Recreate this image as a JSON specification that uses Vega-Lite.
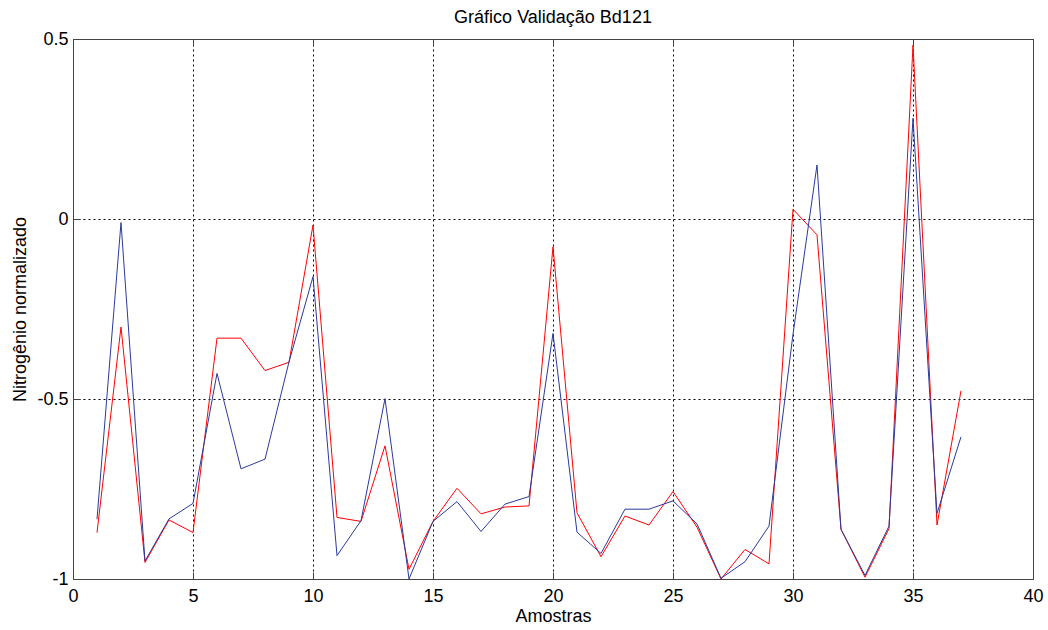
{
  "$schema": "https://vega.github.io/schema/vega-lite/v6.json",
  "width": 960,
  "height": 540,
  "autosize": {"type": "none"},
  "padding": {"left": 73, "top": 39, "right": 15, "bottom": 51},
  "background": "white",
  "title": {
    "text": "Gráfico Validação Bd121",
    "font": "Liberation Sans",
    "fontSize": 18,
    "fontWeight": "normal",
    "color": "#000000",
    "offset": 3,
    "anchor": "middle"
  },
  "config": {
    "view": {"stroke": null},
    "axis": {
      "labelFont": "Liberation Sans",
      "labelFontSize": 18,
      "labelColor": "#000000",
      "titleFont": "Liberation Sans",
      "titleFontSize": 18,
      "titleFontWeight": "normal",
      "titleColor": "#000000",
      "domainColor": "#444444",
      "tickColor": "#444444",
      "labelFlush": false,
      "labelOverlap": false
    }
  },
  "datasets": {
    "estimado": [
      {"amostra": 1, "valor": -0.871}, {"amostra": 2, "valor": -0.30}, {"amostra": 3, "valor": -0.954},
      {"amostra": 4, "valor": -0.836}, {"amostra": 5, "valor": -0.871}, {"amostra": 6, "valor": -0.331},
      {"amostra": 7, "valor": -0.331}, {"amostra": 8, "valor": -0.421}, {"amostra": 9, "valor": -0.398},
      {"amostra": 10, "valor": -0.017}, {"amostra": 11, "valor": -0.829}, {"amostra": 12, "valor": -0.84},
      {"amostra": 13, "valor": -0.63}, {"amostra": 14, "valor": -0.973}, {"amostra": 15, "valor": -0.84},
      {"amostra": 16, "valor": -0.748}, {"amostra": 17, "valor": -0.819}, {"amostra": 18, "valor": -0.80},
      {"amostra": 19, "valor": -0.797}, {"amostra": 20, "valor": -0.077}, {"amostra": 21, "valor": -0.816},
      {"amostra": 22, "valor": -0.938}, {"amostra": 23, "valor": -0.825}, {"amostra": 24, "valor": -0.85},
      {"amostra": 25, "valor": -0.757}, {"amostra": 26, "valor": -0.856}, {"amostra": 27, "valor": -1.0},
      {"amostra": 28, "valor": -0.918}, {"amostra": 29, "valor": -0.958}, {"amostra": 30, "valor": 0.027},
      {"amostra": 31, "valor": -0.044}, {"amostra": 32, "valor": -0.862}, {"amostra": 33, "valor": -0.995},
      {"amostra": 34, "valor": -0.86}, {"amostra": 35, "valor": 0.483}, {"amostra": 36, "valor": -0.85},
      {"amostra": 37, "valor": -0.477}
    ],
    "observado": [
      {"amostra": 1, "valor": -0.834}, {"amostra": 2, "valor": -0.01}, {"amostra": 3, "valor": -0.95},
      {"amostra": 4, "valor": -0.833}, {"amostra": 5, "valor": -0.79}, {"amostra": 6, "valor": -0.429},
      {"amostra": 7, "valor": -0.694}, {"amostra": 8, "valor": -0.667}, {"amostra": 9, "valor": -0.397},
      {"amostra": 10, "valor": -0.16}, {"amostra": 11, "valor": -0.935}, {"amostra": 12, "valor": -0.838},
      {"amostra": 13, "valor": -0.499}, {"amostra": 14, "valor": -1.0}, {"amostra": 15, "valor": -0.84},
      {"amostra": 16, "valor": -0.785}, {"amostra": 17, "valor": -0.868}, {"amostra": 18, "valor": -0.792},
      {"amostra": 19, "valor": -0.771}, {"amostra": 20, "valor": -0.318}, {"amostra": 21, "valor": -0.87},
      {"amostra": 22, "valor": -0.929}, {"amostra": 23, "valor": -0.806}, {"amostra": 24, "valor": -0.806},
      {"amostra": 25, "valor": -0.783}, {"amostra": 26, "valor": -0.847}, {"amostra": 27, "valor": -0.998},
      {"amostra": 28, "valor": -0.952}, {"amostra": 29, "valor": -0.853}, {"amostra": 30, "valor": -0.32},
      {"amostra": 31, "valor": 0.15}, {"amostra": 32, "valor": -0.862}, {"amostra": 33, "valor": -0.99},
      {"amostra": 34, "valor": -0.853}, {"amostra": 35, "valor": 0.28}, {"amostra": 36, "valor": -0.818},
      {"amostra": 37, "valor": -0.605}
    ]
  },
  "resolve": {"axis": {"x": "independent", "y": "independent"}},
  "layer": [
    {
      "data": {"name": "estimado"},
      "mark": {"type": "line", "color": "#ff0000", "strokeWidth": 1},
      "encoding": {
        "x": {
          "field": "amostra",
          "type": "quantitative",
          "scale": {"domain": [0, 40], "nice": false, "zero": false},
          "axis": {
            "orient": "bottom",
            "title": "Amostras",
            "values": [0, 5, 10, 15, 20, 25, 30, 35, 40],
            "tickSize": -7,
            "labelPadding": 15,
            "titlePadding": 2,
            "grid": true,
            "gridColor": "#000000",
            "gridDash": [2, 3],
            "gridWidth": 1
          }
        },
        "y": {
          "field": "valor",
          "type": "quantitative",
          "scale": {"domain": [-1, 0.5], "nice": false, "zero": false},
          "axis": {
            "orient": "left",
            "title": "Nitrogênio normalizado",
            "values": [-1, -0.5, 0, 0.5],
            "labelExpr": "datum.value < 0 ? '-' + format(-datum.value, '') : format(datum.value, '')",
            "tickSize": -7,
            "labelPadding": 12,
            "titlePadding": 7,
            "grid": true,
            "gridColor": "#000000",
            "gridDash": [2, 3],
            "gridWidth": 1
          }
        }
      }
    },
    {
      "data": {"name": "observado"},
      "mark": {"type": "line", "color": "#2a3a9c", "strokeWidth": 1},
      "encoding": {
        "x": {
          "field": "amostra",
          "type": "quantitative",
          "axis": {
            "orient": "top",
            "title": null,
            "values": [0, 5, 10, 15, 20, 25, 30, 35, 40],
            "labels": false,
            "tickSize": -7,
            "grid": false
          }
        },
        "y": {
          "field": "valor",
          "type": "quantitative",
          "axis": {
            "orient": "right",
            "title": null,
            "values": [-1, -0.5, 0, 0.5],
            "labels": false,
            "tickSize": -7,
            "grid": false
          }
        }
      }
    }
  ]
}
